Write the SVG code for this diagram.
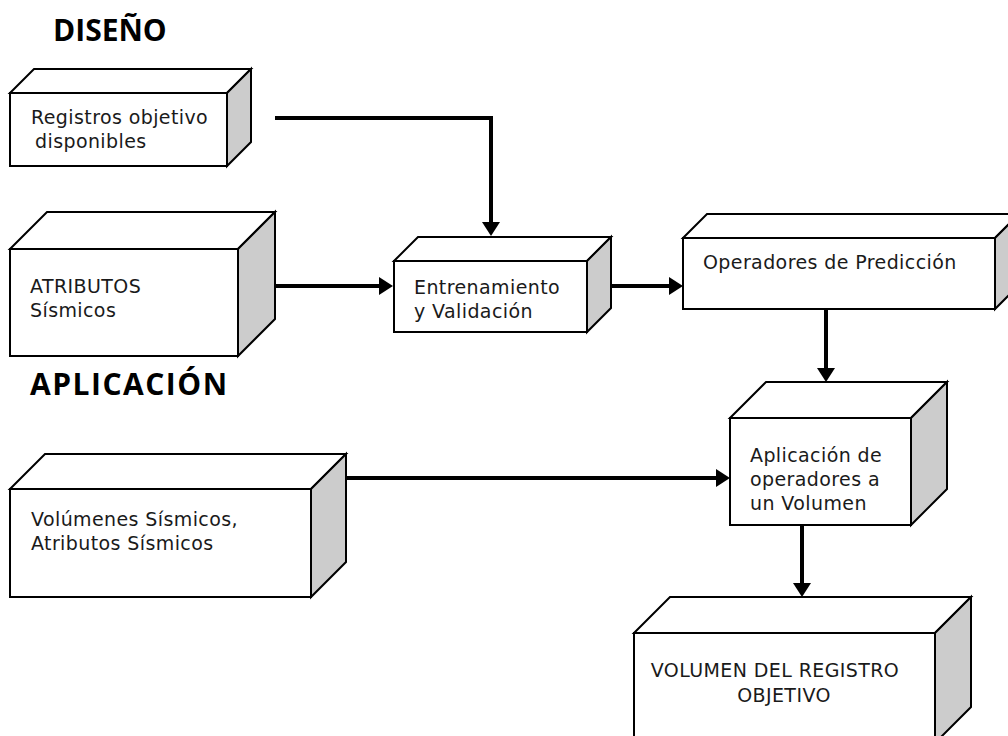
<svg xmlns="http://www.w3.org/2000/svg" width="1008" height="736" viewBox="0 0 1008 736">
  <style>
    .front { fill: #ffffff; stroke: #000000; stroke-width: 2; stroke-linejoin: miter; }
    .top { fill: #ffffff; stroke: #000000; stroke-width: 2; stroke-linejoin: miter; }
    .side { fill: #cccccc; stroke: #000000; stroke-width: 2; stroke-linejoin: miter; }
    .lbl { font-family: "DejaVu Sans", "Liberation Sans", sans-serif; font-size: 19px; letter-spacing: 0.4px; fill: #1a1a1a; }
    .title { font-family: "Open Sans", "Liberation Sans", sans-serif; font-size: 30px; font-weight: bold; fill: #000000; }
    .conn { fill: none; stroke: #000000; stroke-width: 4; stroke-linejoin: miter; }
  </style>
  <defs>
    <marker id="arrow" viewBox="0 0 14 18" refX="2" refY="9" markerWidth="14" markerHeight="18" markerUnits="userSpaceOnUse" orient="auto">
      <path d="M0,0 L14,9 L0,18 z" fill="#000000"/>
    </marker>
  </defs>

  <rect width="1008" height="736" fill="#ffffff"/>

  <!-- section headings -->
  <text class="title" x="53" y="41">DISEÑO</text>
  <text class="title" x="30" y="395" letter-spacing="1.5">APLICACIÓN</text>

  <!-- connectors -->
  <g id="connectors">
    <path class="conn" d="M275,118 H491 V224" marker-end="url(#arrow)"/>
    <path class="conn" d="M275,286 H381" marker-end="url(#arrow)"/>
    <path class="conn" d="M609,286 H671" marker-end="url(#arrow)"/>
    <path class="conn" d="M826,309 V370" marker-end="url(#arrow)"/>
    <path class="conn" d="M345,478 H718" marker-end="url(#arrow)"/>
    <path class="conn" d="M802,525 V585" marker-end="url(#arrow)"/>
  </g>

  <!-- Registros objetivo disponibles: front 10,93 217x73, depth 24 -->
  <g id="registros">
    <polygon class="top" points="10,93 34,69 251,69 227,93"/>
    <polygon class="side" points="227,93 251,69 251,142 227,166"/>
    <rect class="front" x="10" y="93" width="217" height="73"/>
    <text class="lbl" x="31" y="124">Registros objetivo</text>
    <text class="lbl" x="35" y="148">disponibles</text>
  </g>

  <!-- ATRIBUTOS Sísmicos: front 10,249 228x107, depth 37 -->
  <g id="atributos">
    <polygon class="top" points="10,249 47,212 275,212 238,249"/>
    <polygon class="side" points="238,249 275,212 275,319 238,356"/>
    <rect class="front" x="10" y="249" width="228" height="107"/>
    <text class="lbl" x="30" y="293">ATRIBUTOS</text>
    <text class="lbl" x="30" y="317">Sísmicos</text>
  </g>

  <!-- Entrenamiento y Validación: front 394,261 193x71, depth 24 -->
  <g id="entrenamiento">
    <polygon class="top" points="394,261 418,237 611,237 587,261"/>
    <polygon class="side" points="587,261 611,237 611,308 587,332"/>
    <rect class="front" x="394" y="261" width="193" height="71"/>
    <text class="lbl" x="414" y="294">Entrenamiento</text>
    <text class="lbl" x="414" y="318">y Validación</text>
  </g>

  <!-- Operadores de Predicción: front 683,238 312x71, depth 24 -->
  <g id="operadores">
    <polygon class="top" points="683,238 707,214 1019,214 995,238"/>
    <polygon class="side" points="995,238 1019,214 1019,285 995,309"/>
    <rect class="front" x="683" y="238" width="312" height="71"/>
    <text class="lbl" x="703" y="269">Operadores de Predicción</text>
  </g>

  <!-- Aplicación de operadores a un Volumen: front 730,418 181x107, depth 36 -->
  <g id="aplicacion">
    <polygon class="top" points="730,418 766,382 947,382 911,418"/>
    <polygon class="side" points="911,418 947,382 947,489 911,525"/>
    <rect class="front" x="730" y="418" width="181" height="107"/>
    <text class="lbl" x="750" y="462">Aplicación de</text>
    <text class="lbl" x="750" y="486">operadores a</text>
    <text class="lbl" x="750" y="510">un Volumen</text>
  </g>

  <!-- Volúmenes Sísmicos, Atributos Sísmicos: front 10,489 301x108, depth 35 -->
  <g id="volumenes">
    <polygon class="top" points="10,489 45,454 346,454 311,489"/>
    <polygon class="side" points="311,489 346,454 346,562 311,597"/>
    <rect class="front" x="10" y="489" width="301" height="108"/>
    <text class="lbl" x="31" y="526">Volúmenes Sísmicos,</text>
    <text class="lbl" x="31" y="550">Atributos Sísmicos</text>
  </g>

  <!-- VOLUMEN DEL REGISTRO OBJETIVO: front 634,633 301x110, depth 36 -->
  <g id="volumen-registro">
    <polygon class="top" points="634,633 670,597 971,597 935,633"/>
    <polygon class="side" points="935,633 971,597 971,707 935,743"/>
    <rect class="front" x="634" y="633" width="301" height="110"/>
    <text class="lbl" x="775" y="677" text-anchor="middle">VOLUMEN DEL REGISTRO</text>
    <text class="lbl" x="784" y="702" text-anchor="middle">OBJETIVO</text>
  </g>
</svg>
